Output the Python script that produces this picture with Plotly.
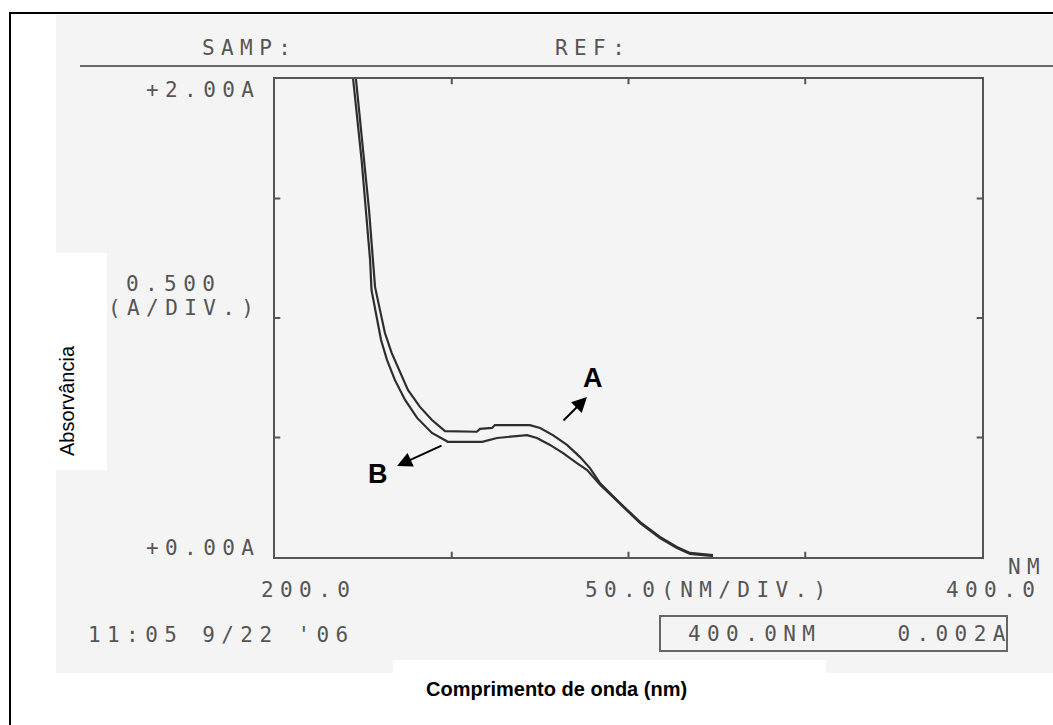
import plotly.graph_objects as go

W, H = 1053, 725

# Spectrum A (upper trace) – wavelength in nm, absorbance
wavelength_a = [222.9, 225.3, 226.6, 227.7, 228.3, 229.7, 231.1, 233.0, 235.4, 237.6,
                241.0, 244.4, 248.1, 257.1, 258.0, 261.4, 262.2, 272.1, 275.0, 278.6,
                282.6, 286.3, 289.1, 291.9, 297.6, 303.3, 308.9, 313.7, 317.4, 323.9]
absorb_a = [2.000, 1.661, 1.452, 1.243, 1.130, 1.033, 0.937, 0.854, 0.770, 0.699,
            0.628, 0.573, 0.527, 0.524, 0.536, 0.540, 0.552, 0.552, 0.540, 0.510,
            0.469, 0.418, 0.372, 0.310, 0.226, 0.146, 0.084, 0.042, 0.017, 0.008]

# Spectrum B (lower trace)
wavelength_b = [222.1, 224.5, 225.7, 226.9, 227.3, 228.6, 230.0, 231.7, 233.9, 236.8,
                240.2, 244.4, 248.9, 258.6, 262.8, 271.3, 274.1, 277.8, 281.5, 285.4,
                288.3, 291.9, 297.6, 303.3, 308.9, 313.7, 317.4, 323.9]
absorb_b = [2.000, 1.661, 1.452, 1.243, 1.117, 1.013, 0.908, 0.824, 0.741, 0.657,
            0.582, 0.519, 0.482, 0.482, 0.498, 0.510, 0.498, 0.469, 0.435, 0.393,
            0.364, 0.303, 0.222, 0.142, 0.079, 0.038, 0.013, 0.004]

x_ticks = [200, 250, 300, 350, 400]
y_ticks = [0.0, 0.5, 1.0, 1.5, 2.0]

# plot frame in page pixels
PL, PR, PT, PB = 275, 982, 79, 557

TRACE_COLOR = "#2e2e2e"
AXIS_COLOR = "#555555"
PRINT_COLOR = "#555555"
MONO = "DejaVu Sans Mono"


def px(x):
    return x / W


def py(y):
    return 1 - y / H


fig = go.Figure()
for wl, ab, name in [(wavelength_a, absorb_a, "A"), (wavelength_b, absorb_b, "B")]:
    fig.add_trace(go.Scatter(x=wl, y=ab, mode="lines", name=name,
                             line=dict(color=TRACE_COLOR, width=2.2), showlegend=False))

shapes = []
# outer frame (left and top edges)
shapes.append(dict(type="line", xref="paper", yref="paper", x0=px(10), x1=px(10), y0=py(12), y1=py(740),
                   line=dict(color="black", width=2)))
shapes.append(dict(type="line", xref="paper", yref="paper", x0=px(10), x1=px(1070), y0=py(13), y1=py(13),
                   line=dict(color="black", width=2)))
# printout sheet
shapes.append(dict(type="rect", xref="paper", yref="paper", x0=px(56), x1=px(1060), y0=py(15), y1=py(673),
                   fillcolor="#f4f4f4", line=dict(width=0), layer="below"))
# header rule
shapes.append(dict(type="line", xref="paper", yref="paper", x0=px(80), x1=px(1060), y0=py(66), y1=py(66),
                   line=dict(color="#6a6a6a", width=2)))
# white label patches
shapes.append(dict(type="rect", xref="paper", yref="paper", x0=px(56), x1=px(107), y0=py(253), y1=py(470),
                   fillcolor="white", line=dict(width=0)))
shapes.append(dict(type="rect", xref="paper", yref="paper", x0=px(393), x1=px(826), y0=py(660), y1=py(680),
                   fillcolor="white", line=dict(width=0)))
# readout box
shapes.append(dict(type="rect", xref="paper", yref="paper", x0=px(660), x1=px(1007), y0=py(616), y1=py(651),
                   fillcolor="rgba(0,0,0,0)", line=dict(color="#666666", width=2)))

# crossing tick marks on all four sides
dy = 0.022
dx = 1.5
for v in x_ticks[1:-1]:
    for base in (y_ticks[0], y_ticks[-1]):
        shapes.append(dict(type="line", xref="x", yref="y", x0=v, x1=v, y0=base - dy, y1=base + dy,
                           line=dict(color=AXIS_COLOR, width=2)))
for v in y_ticks[1:-1]:
    for base in (x_ticks[0], x_ticks[-1]):
        shapes.append(dict(type="line", xref="x", yref="y", x0=base - dx, x1=base + dx, y0=v, y1=v,
                           line=dict(color=AXIS_COLOR, width=2)))

annotations = []


def mono(text, x, y, size=21, spacing=6.4):
    annotations.append(dict(
        text=f"<span style='letter-spacing:{spacing}px'>{text}</span>",
        xref="paper", yref="paper", x=px(x), y=py(y), xanchor="left", yanchor="middle",
        showarrow=False, font=dict(family=MONO, size=size, color=PRINT_COLOR)))


mono("SAMP:", 200, 48)
mono("REF:", 553, 48)
mono("+2.00A", 144, 90)
mono("+0.00A", 144, 548)
mono("0.500", 124, 283.5)
mono("(A/DIV.)", 106, 307.5)
mono("200.0", 259, 590)
mono("50.0(NM/DIV.)", 583, 590)
mono("NM", 1006, 567)
mono("400.0", 944, 590)
mono("11:05 9/22 '06", 86, 635)
mono("400.0NM    0.002A", 686, 634)

# axis titles
annotations.append(dict(text="Absorvância", xref="paper", yref="paper", x=px(67), y=py(401),
                        textangle=-90, showarrow=False, xanchor="center", yanchor="middle",
                        font=dict(family="Liberation Sans, Arial", size=20, color="black")))
annotations.append(dict(text="<b>Comprimento de onda (nm)</b>", xref="paper", yref="paper",
                        x=px(556), y=py(689), showarrow=False, xanchor="center", yanchor="middle",
                        font=dict(family="Liberation Sans, Arial", size=20, color="black")))

# trace labels with arrows
annotations.append(dict(text="<b>A</b>", xref="paper", yref="paper", x=px(593), y=py(378),
                        showarrow=False, xanchor="center", yanchor="middle",
                        font=dict(family="Liberation Sans, Arial", size=27, color="black")))
annotations.append(dict(text="<b>B</b>", xref="paper", yref="paper", x=px(378), y=py(474),
                        showarrow=False, xanchor="center", yanchor="middle",
                        font=dict(family="Liberation Sans, Arial", size=27, color="black")))
annotations.append(dict(text="", xref="paper", yref="paper", x=px(587), y=py(397),
                        ax=-25, ay=25, showarrow=True, arrowhead=2, arrowsize=1.5,
                        arrowwidth=2, arrowcolor="black", standoff=0))
annotations.append(dict(text="", xref="paper", yref="paper", x=px(397), y=py(466),
                        ax=46, ay=-21, showarrow=True, arrowhead=2, arrowsize=1.5,
                        arrowwidth=2, arrowcolor="black", standoff=0))

fig.update_layout(
    width=W, height=H,
    margin=dict(l=0, r=0, t=0, b=0),
    paper_bgcolor="white",
    plot_bgcolor="rgba(0,0,0,0)",
    shapes=shapes,
    annotations=annotations,
    xaxis=dict(domain=[px(PL), px(PR)], range=[x_ticks[0], x_ticks[-1]], showgrid=False,
               zeroline=False, showline=True, mirror=True, linecolor=AXIS_COLOR, linewidth=2,
               tickvals=x_ticks, showticklabels=False, ticks=""),
    yaxis=dict(domain=[py(PB), py(PT)], range=[y_ticks[0], y_ticks[-1]], showgrid=False,
               zeroline=False, showline=True, mirror=True, linecolor=AXIS_COLOR, linewidth=2,
               tickvals=y_ticks, showticklabels=False, ticks=""),
)

fig.write_html("out.html")
